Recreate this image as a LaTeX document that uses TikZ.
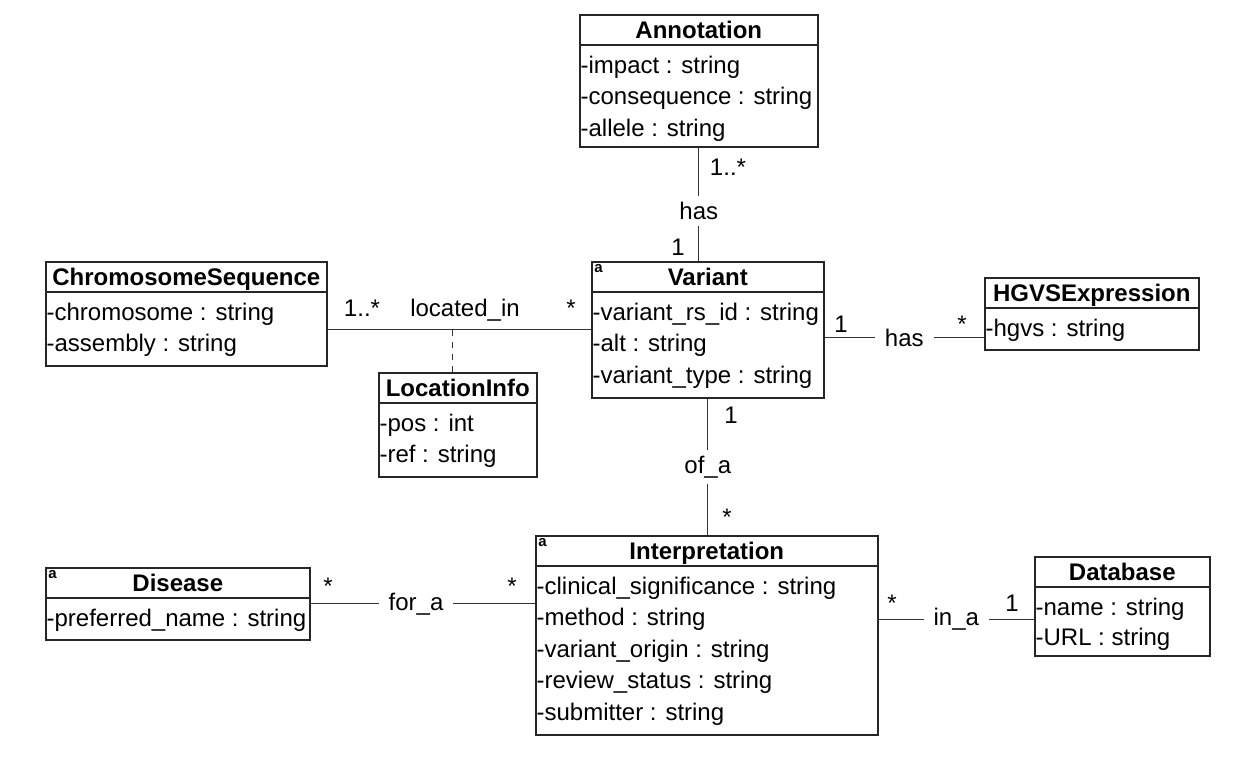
\documentclass[tikz,border=0pt]{standalone}
\usepackage{fontspec}
\setmainfont{Liberation Sans}
\begin{document}
\begin{tikzpicture}[x=0.5pt, y=-0.5pt,
    classbox/.style={draw=black!85, line width=0.8pt, anchor=north west, inner sep=0pt},
    classname/.style={font=\fontsize{12}{14}\selectfont\bfseries, anchor=base, inner sep=0pt},
    attr/.style={font=\fontsize{12}{14}\selectfont, anchor=base west, inner xsep=0.6pt, inner ysep=0pt},
    mult/.style={font=\fontsize{12}{14}\selectfont, anchor=base, inner sep=0pt},
    assoc/.style={font=\fontsize{12}{14}\selectfont, fill=white, inner xsep=5pt, inner ysep=3pt},
    tag/.style={font=\fontsize{7.5}{8}\selectfont\bfseries, anchor=north west, inner sep=1.5pt},
    link/.style={draw=black!80, line width=0.6pt}]
    \useasboundingbox (0,0) rectangle (1255,766);

    % Draw the classes
    \node[classbox, minimum width=119pt, minimum height=66pt] (annot) at (579,14) {};
    \node[classbox, minimum width=116pt, minimum height=68pt] (variant) at (591,261) {};
    \node[classbox, minimum width=140.5pt, minimum height=52pt] (chromseq) at (45,261) {};
    \node[classbox, minimum width=79pt, minimum height=52pt] (locinfo) at (378,372) {};
    \node[classbox, minimum width=107pt, minimum height=36pt] (hgvs) at (984,277) {};
    \node[classbox, minimum width=171pt, minimum height=99.5pt] (interp) at (535,535) {};
    \node[classbox, minimum width=132pt, minimum height=36pt] (disease) at (45,567) {};
    \node[classbox, minimum width=87.5pt, minimum height=49.5pt] (database) at (1034,556) {};

    % header lines
    \foreach \n in {annot, variant, chromseq, locinfo, hgvs, interp, disease, database}
        \draw[draw=black!85, line width=0.8pt] ([yshift=-15.5pt]\n.north west) -- ([yshift=-15.5pt]\n.north east);

    % class names
    \node[classname] at ([yshift=-12pt]annot.north) {Annotation};
    \node[classname] at ([yshift=-12pt]variant.north) {Variant};
    \node[classname] at ([yshift=-12pt]chromseq.north) {ChromosomeSequence};
    \node[classname] at ([yshift=-12pt]locinfo.north) {LocationInfo};
    \node[classname] at ([yshift=-12pt]hgvs.north) {HGVSExpression};
    \node[classname] at ([yshift=-12pt]interp.north) {Interpretation};
    \node[classname] at ([yshift=-12pt]disease.north) {Disease};
    \node[classname] at ([yshift=-12pt]database.north) {Database};

    % abstract tags
    \node[tag] at (variant.north west) {a};
    \node[tag] at (interp.north west) {a};
    \node[tag] at (disease.north west) {a};

    % attributes
    \foreach \t [count=\i from 0] in {-impact : string, -consequence : string, -allele : string}
        \node[attr] at ([yshift={-29.5pt-15.75pt*\i}]annot.north west) {\t};
    \foreach \t [count=\i from 0] in {-variant\_rs\_id : string, -alt : string, -variant\_type : string}
        \node[attr] at ([yshift={-29.5pt-15.75pt*\i}]variant.north west) {\t};
    \foreach \t [count=\i from 0] in {-chromosome : string, -assembly : string}
        \node[attr] at ([yshift={-29.5pt-15.75pt*\i}]chromseq.north west) {\t};
    \foreach \t [count=\i from 0] in {-pos : int, -ref : string}
        \node[attr] at ([yshift={-29.5pt-15.75pt*\i}]locinfo.north west) {\t};
    \foreach \t [count=\i from 0] in {-hgvs : string}
        \node[attr] at ([yshift={-29.5pt-15.75pt*\i}]hgvs.north west) {\t};
    \foreach \t [count=\i from 0] in {-clinical\_significance : string, -method : string, -variant\_origin : string, -review\_status : string, -submitter : string}
        \node[attr] at ([yshift={-29.5pt-15.75pt*\i}]interp.north west) {\t};
    \foreach \t [count=\i from 0] in {-preferred\_name : string}
        \node[attr] at ([yshift={-29.5pt-15.75pt*\i}]disease.north west) {\t};
    \foreach \t [count=\i from 0] in {-name : string, -URL : string}
        \node[attr] at ([yshift={-29.5pt-15pt*\i}]database.north west) {\t};

    % Draw the associations
    \draw[link] (annot.south) -- node[assoc, pos=0.56] {has} (annot.south |- variant.north);
    \draw[link] (chromseq.east |- variant.west) -- (variant.west);
    \draw[link, dash pattern=on 3pt off 3pt] ([xshift=-2.5pt]locinfo.north) -- ([xshift=-2.5pt]locinfo.north |- variant.west);
    \draw[link] ([yshift=-4pt]variant.east) -- node[assoc] {has} ([yshift=-4pt]variant.east -| hgvs.west);
    \draw[link] (variant.south) -- node[assoc] {of\_a} (variant.south |- interp.north);
    \draw[link] (disease.east) -- node[assoc, pos=0.47] {for\_a} (disease.east -| interp.west);
    \draw[link] ([yshift=8pt]interp.east) -- node[assoc] {in\_a} ([yshift=8pt]interp.east -| database.west);

    % multiplicities
    \node[mult] at (728,175) {1..*};
    \node[mult] at (678,255) {1};
    \node[mult] at (362,316) {1..*};
    \node[mult] at (465,316) {located\_in};
    \node[mult] at (571,316) {*};
    \node[mult] at (841,332) {1};
    \node[mult] at (962,332) {*};
    \node[mult] at (731,423) {1};
    \node[mult] at (727,525) {*};
    \node[mult] at (328,594) {*};
    \node[mult] at (512,594) {*};
    \node[mult] at (892,611) {*};
    \node[mult] at (1012,611) {1};
\end{tikzpicture}
\end{document}
